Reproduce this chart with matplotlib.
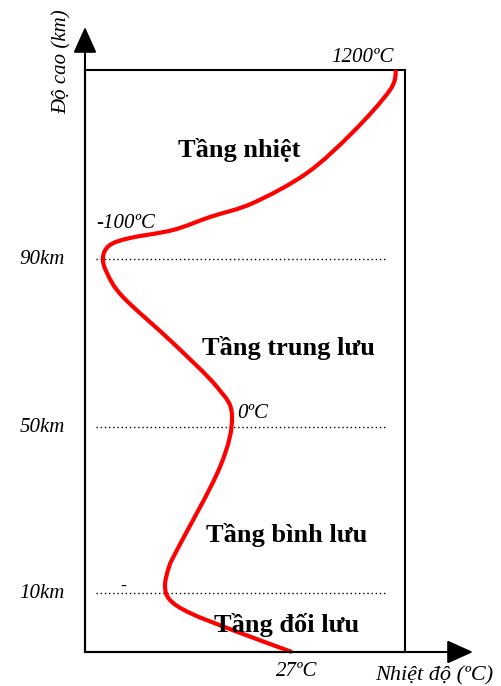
import matplotlib
matplotlib.use("Agg")
import matplotlib.pyplot as plt
import numpy as np
from matplotlib.path import Path
from matplotlib.patches import PathPatch

# schematic profile: horizontal position (temperature, schematic) vs height (schematic units)
curve_t = [207, 150, 105, 85, 80, 84, 92, 135, 147, 132, 88, 38, 22, 18, 25, 45,
           88, 125, 168, 222, 268, 305, 311]
curve_h = [0, 21, 39, 52, 66, 85, 102, 185, 236, 265, 309, 355, 379, 395, 407, 414,
           422, 435, 449, 479, 520, 562, 582]

levels_km = ["10km", "50km", "90km"]
levels_h = [59, 225, 393]

temp_labels = ["27ºC", "0ºC", "-100ºC", "1200ºC"]
layers = ["Tầng đối lưu", "Tầng bình lưu", "Tầng trung lưu", "Tầng nhiệt"]

serif = ["Liberation Serif", "DejaVu Serif"]
plt.rcParams["font.family"] = serif


def smooth_path(xs, ys):
    # Catmull-Rom through the points, written as cubic bezier segments
    p = np.column_stack([xs, ys]).astype(float)
    verts = [p[0]]
    codes = [Path.MOVETO]
    for i in range(len(p) - 1):
        p0 = p[i - 1] if i > 0 else p[i]
        p1, p2 = p[i], p[i + 1]
        p3 = p[i + 2] if i + 2 < len(p) else p[i + 1]
        verts += [p1 + (p2 - p0) / 6, p2 - (p3 - p1) / 6, p2]
        codes += [Path.CURVE4] * 3
    return Path(verts, codes)


W, H = 502, 686
fig = plt.figure(figsize=(W / 100, H / 100), dpi=100)
# box from x=85..405, y=70..652 (pixels)
ax = fig.add_axes([85 / W, (H - 652) / H, 320 / W, 582 / H])
ax.set_xlim(0, 320)
ax.set_ylim(0, 582)
ax.set_xticks([])
ax.set_yticks([])
for s in ax.spines.values():
    s.set_linewidth(1.5)

# temperature curve
ax.add_patch(PathPatch(smooth_path(curve_t, curve_h), facecolor="none",
                       edgecolor="red", lw=3, capstyle="butt", clip_on=False, zorder=3))

# dotted height levels
for name, h in zip(levels_km, levels_h):
    ax.plot([11, 300], [h, h], color="black", lw=1, linestyle=(0, (1, 2)))
    ax.text(-20, h, name, ha="right", va="center", fontsize=15, style="italic")

# axis arrows
ax.annotate("", xy=(0, 625), xytext=(0, 0), annotation_clip=False,
            arrowprops=dict(arrowstyle="-|>,head_length=1.0,head_width=0.45",
                            lw=1.5, color="black", mutation_scale=16, shrinkA=0, shrinkB=0))
ax.annotate("", xy=(388, 0), xytext=(0, 0), annotation_clip=False,
            arrowprops=dict(arrowstyle="-|>,head_length=1.0,head_width=0.45",
                            lw=1.5, color="black", mutation_scale=16, shrinkA=0, shrinkB=0))

ax.text(-23, 590, "Độ cao (km)", rotation=90, ha="center", va="center",
        fontsize=15, style="italic")
ax.text(290, -24, "Nhiệt độ (ºC)", ha="left", va="center", fontsize=16, style="italic")

# temperature marks
ax.text(212, -20, temp_labels[0], ha="center", va="center", fontsize=15, style="italic")
ax.text(152, 239, temp_labels[1], ha="left", va="center", fontsize=15, style="italic")
ax.text(11, 428, temp_labels[2], ha="left", va="center", fontsize=15, style="italic")
ax.text(309, 590, temp_labels[3], ha="right", va="baseline", fontsize=15, style="italic")
ax.text(38, 66, "-", ha="center", va="center", fontsize=13)

# layer names
ax.text(202, 20, layers[0], ha="center", va="baseline", fontsize=19, weight="bold")
ax.text(202, 110, layers[1], ha="center", va="baseline", fontsize=19, weight="bold")
ax.text(203, 297, layers[2], ha="center", va="baseline", fontsize=19, weight="bold")
ax.text(154, 495, layers[3], ha="center", va="baseline", fontsize=19, weight="bold")

fig.savefig("out.png", dpi=100)
